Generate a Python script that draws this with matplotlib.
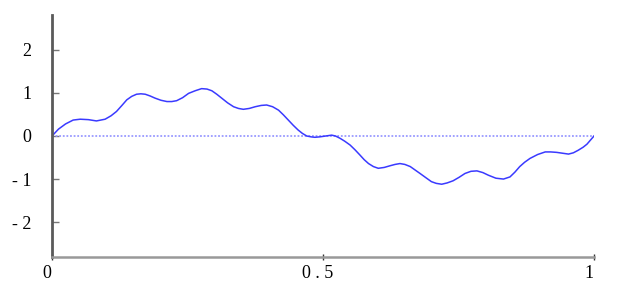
import matplotlib
matplotlib.use("Agg")
import matplotlib.pyplot as plt
import matplotlib.transforms as mtransforms

# curve
x_vals = [0.0, 0.012, 0.025, 0.039, 0.052, 0.067, 0.082, 0.098, 0.109, 0.119, 0.129,
          0.138, 0.147, 0.156, 0.164, 0.172, 0.181, 0.19, 0.201, 0.212, 0.221, 0.230,
          0.241, 0.252, 0.264, 0.276, 0.286, 0.295, 0.304, 0.313, 0.324, 0.335, 0.344,
          0.353, 0.364, 0.375, 0.386, 0.396, 0.407, 0.418, 0.427, 0.436, 0.445, 0.454,
          0.462, 0.470, 0.478, 0.485, 0.494, 0.505, 0.516, 0.523, 0.531, 0.540, 0.550,
          0.559, 0.568, 0.576, 0.584, 0.593, 0.602, 0.613, 0.624, 0.633, 0.642, 0.651,
          0.661, 0.670, 0.679, 0.690, 0.700, 0.709, 0.719, 0.729, 0.740, 0.751, 0.762,
          0.773, 0.784, 0.795, 0.805, 0.819, 0.833, 0.845, 0.854, 0.863, 0.872, 0.882,
          0.896, 0.910, 0.920, 0.931, 0.942, 0.953, 0.962, 0.971, 0.980, 0.987, 1.0]
y_vals = [0.0, 0.16, 0.28, 0.37, 0.39, 0.38, 0.35, 0.39, 0.47, 0.57, 0.71,
          0.84, 0.92, 0.97, 0.98, 0.97, 0.93, 0.88, 0.83, 0.80, 0.80, 0.82,
          0.89, 0.99, 1.05, 1.10, 1.09, 1.05, 0.97, 0.88, 0.77, 0.68, 0.64,
          0.62, 0.64, 0.68, 0.71, 0.72, 0.68, 0.60, 0.49, 0.37, 0.25, 0.14,
          0.06, 0.0, -0.02, -0.03, -0.02, 0.0, 0.02, 0.0, -0.05, -0.12, -0.21,
          -0.32, -0.44, -0.55, -0.64, -0.71, -0.75, -0.73, -0.69, -0.66, -0.64, -0.66,
          -0.71, -0.79, -0.87, -0.97, -1.06, -1.10, -1.12, -1.09, -1.04, -0.96, -0.87,
          -0.82, -0.81, -0.85, -0.91, -0.98, -1.0, -0.95, -0.84, -0.71, -0.61, -0.52,
          -0.43, -0.37, -0.37, -0.38, -0.40, -0.42, -0.39, -0.33, -0.26, -0.19, 0.0]

x_ticks = [0, 0.5, 1]
x_ticklabels = ["0", "0 . 5", "1"]
y_ticks = [-2, -1, 0, 1, 2]
y_ticklabels = ["- 2", "- 1", "0", "1", "2"]

plt.rcParams['font.family'] = ['Liberation Serif', 'DejaVu Serif']

fig = plt.figure(figsize=(6.35, 2.92), dpi=100)
ax = fig.add_axes([52/635, 35/292, 542/635, 242/292])

ax.axhline(0, color="#9a9aff", linewidth=1.3, linestyle=(0, (1, 1)))
ax.plot(x_vals, y_vals, color="#3a3aff", linewidth=1.1)

ax.set_xlim(0, 1)
ax.set_ylim(-2.81, 2.81)
for s in ["top", "right"]:
    ax.spines[s].set_visible(False)
ax.spines["left"].set_color("#5a5a5a")
ax.spines["left"].set_linewidth(2)
ax.spines["bottom"].set_color("#999999")
ax.spines["bottom"].set_linewidth(1.8)

ax.set_yticks(y_ticks)
ax.set_yticklabels(y_ticklabels, fontsize=13)
ax.tick_params(axis="y", direction="in", length=5, width=1, color="#777777", pad=15)
ax.set_xticks(x_ticks)
ax.set_xticklabels(x_ticklabels, fontsize=13)
ax.tick_params(axis="x", direction="inout", length=5, width=1, color="#333333", pad=3)
off = mtransforms.ScaledTranslation(-5/100, 0, fig.dpi_scale_trans)
for lab in ax.get_xticklabels():
    lab.set_transform(lab.get_transform() + off)

fig.savefig("out.png", dpi=100)
